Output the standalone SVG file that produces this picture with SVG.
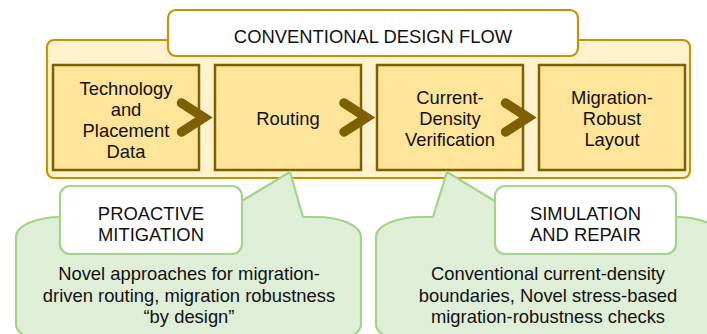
<svg xmlns="http://www.w3.org/2000/svg" width="707" height="334" viewBox="0 0 707 334">
<style>
text{font-family:"Liberation Sans",Arial,sans-serif;font-size:18.4px;fill:#111;text-anchor:middle}
.box{fill:#ffe599;stroke:#7f6000;stroke-width:2.5}
.chev{fill:none;stroke:#7f6000;stroke-width:9.5;stroke-linecap:round;stroke-linejoin:miter;stroke-miterlimit:10}
.callout{fill:#dfeed7;stroke:#a3d48a;stroke-width:2.2}
.label{fill:#fff;stroke:#a3d48a;stroke-width:2.2}
</style>
<rect width="707" height="334" fill="#fff"/>
<g id="container">
<rect x="47" y="40" width="643" height="138" rx="7" fill="#fff2cc" stroke="#c39500" stroke-width="2.2"/>
</g>
<g id="title">
<rect x="168" y="10" width="410" height="46" rx="8" fill="#fff" stroke="#c39500" stroke-width="2.2"/>
<text x="373" y="43">CONVENTIONAL DESIGN FLOW</text>
</g>
<g id="n1">
<rect class="box" x="53" y="65" width="146" height="105"/>
<text x="126" y="94.5">Technology</text>
<text x="126" y="115.5">and</text>
<text x="126" y="136.5">Placement</text>
<text x="126" y="157.5">Data</text>
</g>
<g id="n2">
<rect class="box" x="215" y="65" width="146" height="105"/>
<text x="288" y="125">Routing</text>
</g>
<g id="n3">
<rect class="box" x="377" y="65" width="146" height="105"/>
<text x="450" y="103.5">Current-</text>
<text x="450" y="124.5">Density</text>
<text x="450" y="145.5">Verification</text>
</g>
<g id="n4">
<rect class="box" x="539" y="65" width="146" height="105"/>
<text x="612" y="103.5">Migration-</text>
<text x="612" y="124.5">Robust</text>
<text x="612" y="145.5">Layout</text>
</g>
<g id="connectors">
<polyline class="chev" points="181.5,103 204,117.5 181.5,132"/>
<polyline class="chev" points="344,103 366.5,117.5 344,132"/>
<polyline class="chev" points="505.5,103 528,117.5 505.5,132"/>
</g>
<g id="callout-left">
<path class="callout" d="M16,237 A45,20 0 0 1 61,217 L215,217 L290,172 L303,217 L316,217 A45,20 0 0 1 361,237 L361,324 A45,20 0 0 1 316,344 L61,344 A45,20 0 0 1 16,324 Z"/>
<rect class="label" x="60" y="186" width="182" height="68" rx="10"/>
<text x="151" y="220">PROACTIVE</text>
<text x="151" y="241">MITIGATION</text>
<text x="189" y="280">Novel approaches for migration-</text>
<text x="189" y="301.5">driven routing, migration robustness</text>
<text x="189" y="323">“by design”</text>
</g>
<g id="callout-right">
<path class="callout" d="M376,237 A45,20 0 0 1 421,217 L433,217 L447,172 L521,217 L676,217 A45,20 0 0 1 721,237 L721,324 A45,20 0 0 1 676,344 L421,344 A45,20 0 0 1 376,324 Z"/>
<rect class="label" x="495" y="186" width="181" height="68" rx="10"/>
<text x="585.5" y="219.5">SIMULATION</text>
<text x="585.5" y="240.5">AND REPAIR</text>
<text x="548" y="280">Conventional current-density</text>
<text x="548" y="301.5">boundaries, Novel stress-based</text>
<text x="548" y="323">migration-robustness checks</text>
</g>
</svg>
